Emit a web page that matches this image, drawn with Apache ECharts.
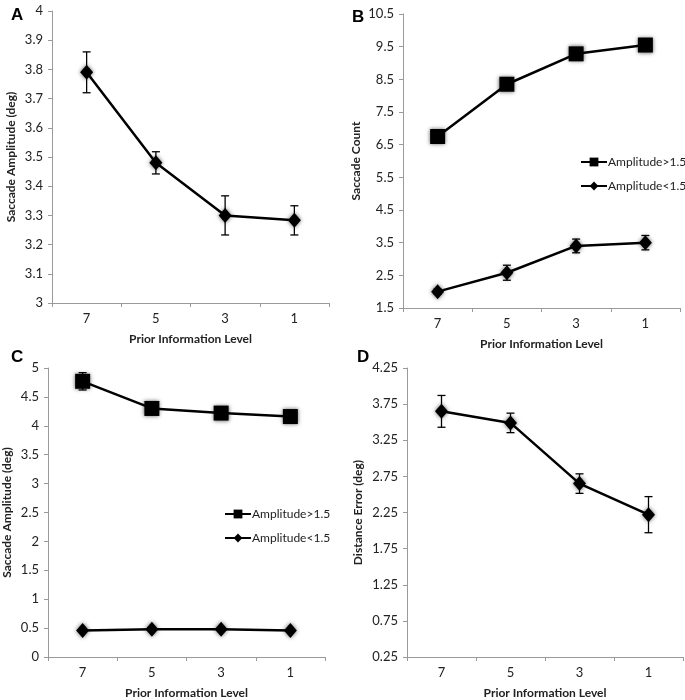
<!DOCTYPE html>
<html><head><meta charset="utf-8">
<script src="https://cdn.jsdelivr.net/npm/echarts@6/dist/echarts.min.js"></script>
<style>html,body{margin:0;padding:0;background:#fff}#c{width:685px;height:700px}</style>
</head><body><div id="c"></div>
<script>
var categories = ['7', '5', '3', '1'];
var aMean = [3.79, 3.48, 3.30, 3.283];
var aErr  = [0.07, 0.038, 0.067, 0.05];
var bHigh = [6.75, 8.35, 9.28, 9.55];
var bHighErr = [0.06, 0.06, 0.06, 0.06];
var bLow  = [2.0, 2.58, 3.40, 3.50];
var bLowErr = [0.08, 0.23, 0.21, 0.22];
var cHigh = [4.77, 4.30, 4.22, 4.16];
var cHighErr = [0.15, 0.05, 0.05, 0.04];
var cLow  = [0.46, 0.48, 0.48, 0.46];
var cLowErr = [0.02, 0.02, 0.02, 0.02];
var dMean = [3.65, 3.49, 2.65, 2.22];
var dErr  = [0.22, 0.135, 0.135, 0.25];
var aTicks = [3, 3.1, 3.2, 3.3, 3.4, 3.5, 3.6, 3.7, 3.8, 3.9, 4];
var bTicks = [1.5, 2.5, 3.5, 4.5, 5.5, 6.5, 7.5, 8.5, 9.5, 10.5];
var cTicks = [0, 0.5, 1, 1.5, 2, 2.5, 3, 3.5, 4, 4.5, 5];
var dTicks = [0.25, 0.75, 1.25, 1.75, 2.25, 2.75, 3.25, 3.75, 4.25];
var highName = 'Amplitude>1.5', lowName = 'Amplitude<1.5';
var xTitle = 'Prior Information Level';

var FONT = 'Lato';
var AXC = '#9a9a9a';

function xAxis(gi) {
  return {
    type: 'category', gridIndex: gi, data: categories,
    axisLine: {lineStyle: {color: AXC, width: 1}},
    axisTick: {show: true, length: 4, lineStyle: {color: AXC}},
    axisLabel: {color: '#222', fontFamily: FONT, fontSize: 13, margin: 9},
    name: xTitle, nameLocation: 'middle', nameGap: 30,
    nameTextStyle: {color: '#222', fontFamily: FONT, fontWeight: 'bold', fontSize: 12}
  };
}
function yAxis(gi, min, max, ticks, name, gap) {
  return {
    type: 'value', gridIndex: gi, min: min, max: max,
    splitLine: {show: false},
    axisLine: {show: true, lineStyle: {color: AXC, width: 1}},
    axisTick: {show: true, length: 4, lineStyle: {color: AXC}, customValues: ticks},
    axisLabel: {color: '#222', fontFamily: FONT, fontSize: 13, margin: 9, customValues: ticks},
    name: name, nameLocation: 'middle', nameGap: gap,
    nameTextStyle: {color: '#222', fontFamily: FONT, fontWeight: 'bold', fontSize: 12}
  };
}
function lineSeries(gi, name, vals, symbol, size) {
  return {
    type: 'line', name: name, xAxisIndex: gi, yAxisIndex: gi, data: vals,
    symbol: symbol, symbolSize: size, z: 3,
    lineStyle: {color: '#000', width: 2.5},
    itemStyle: {color: '#000', shadowBlur: 4, shadowColor: 'rgba(0,0,0,0.6)'}
  };
}
function errSeries(gi, vals, errs) {
  var d = vals.map(function (v, i) { return [i, v - errs[i], v + errs[i]]; });
  return {
    type: 'custom', xAxisIndex: gi, yAxisIndex: gi, data: d, z: 4, silent: true,
    renderItem: function (params, api) {
      var x = api.value(0);
      var lo = api.coord([x, api.value(1)]);
      var hi = api.coord([x, api.value(2)]);
      var w = 4;
      var st = {stroke: '#000', lineWidth: 1.3};
      return {type: 'group', children: [
        {type: 'line', shape: {x1: lo[0], y1: lo[1], x2: hi[0], y2: hi[1]}, style: st},
        {type: 'line', shape: {x1: lo[0] - w, y1: lo[1], x2: lo[0] + w, y2: lo[1]}, style: st},
        {type: 'line', shape: {x1: hi[0] - w, y1: hi[1], x2: hi[0] + w, y2: hi[1]}, style: st}
      ]};
    }
  };
}
function panelLabel(t, x, y) {
  return {text: t, left: x, top: y, textStyle: {fontFamily: 'Liberation Sans', fontWeight: 'bold', fontSize: 17, color: '#000'}};
}
function legend(left, top) {
  return {
    left: left, top: top, orient: 'vertical', padding: 0, itemGap: 12, itemWidth: 26, itemHeight: 11,
    data: [highName, lowName], selectedMode: false,
    textStyle: {fontFamily: FONT, fontSize: 12, color: '#222', padding: [0, 0, 0, -4]}
  };
}

var chart = echarts.init(document.getElementById('c'));
chart.setOption({
  animation: false,
  title: [panelLabel('A', 6, 2), panelLabel('B', 347, 4), panelLabel('C', 6, 344), panelLabel('D', 352, 344)],
  legend: [legend(580, 156), legend(224, 508)],
  grid: [
    {left: 52, top: 11, width: 277, height: 292},
    {left: 403, top: 14, width: 277, height: 294},
    {left: 47, top: 368, width: 278, height: 291},
    {left: 407, top: 368, width: 276, height: 292}
  ],
  xAxis: [xAxis(0), xAxis(1), xAxis(2), xAxis(3)],
  yAxis: [
    yAxis(0, 3, 4, aTicks, 'Saccade Amplitude (deg)', 35),
    yAxis(1, 1.5, 10.5, bTicks, 'Saccade Count', 41),
    yAxis(2, 0, 5, cTicks, 'Saccade Amplitude (deg)', 35),
    yAxis(3, 0.25, 4.25, dTicks, 'Distance Error (deg)', 43)
  ],
  series: [
    lineSeries(0, 'A', aMean, 'diamond', [13, 15]),
    errSeries(0, aMean, aErr),
    lineSeries(1, highName, bHigh, 'rect', 15),
    errSeries(1, bHigh, bHighErr),
    lineSeries(1, lowName, bLow, 'diamond', [13, 15]),
    errSeries(1, bLow, bLowErr),
    lineSeries(2, highName, cHigh, 'rect', 15),
    errSeries(2, cHigh, cHighErr),
    lineSeries(2, lowName, cLow, 'diamond', [13, 15]),
    errSeries(2, cLow, cLowErr),
    lineSeries(3, 'D', dMean, 'diamond', [13, 15]),
    errSeries(3, dMean, dErr)
  ]
});
</script></body></html>
